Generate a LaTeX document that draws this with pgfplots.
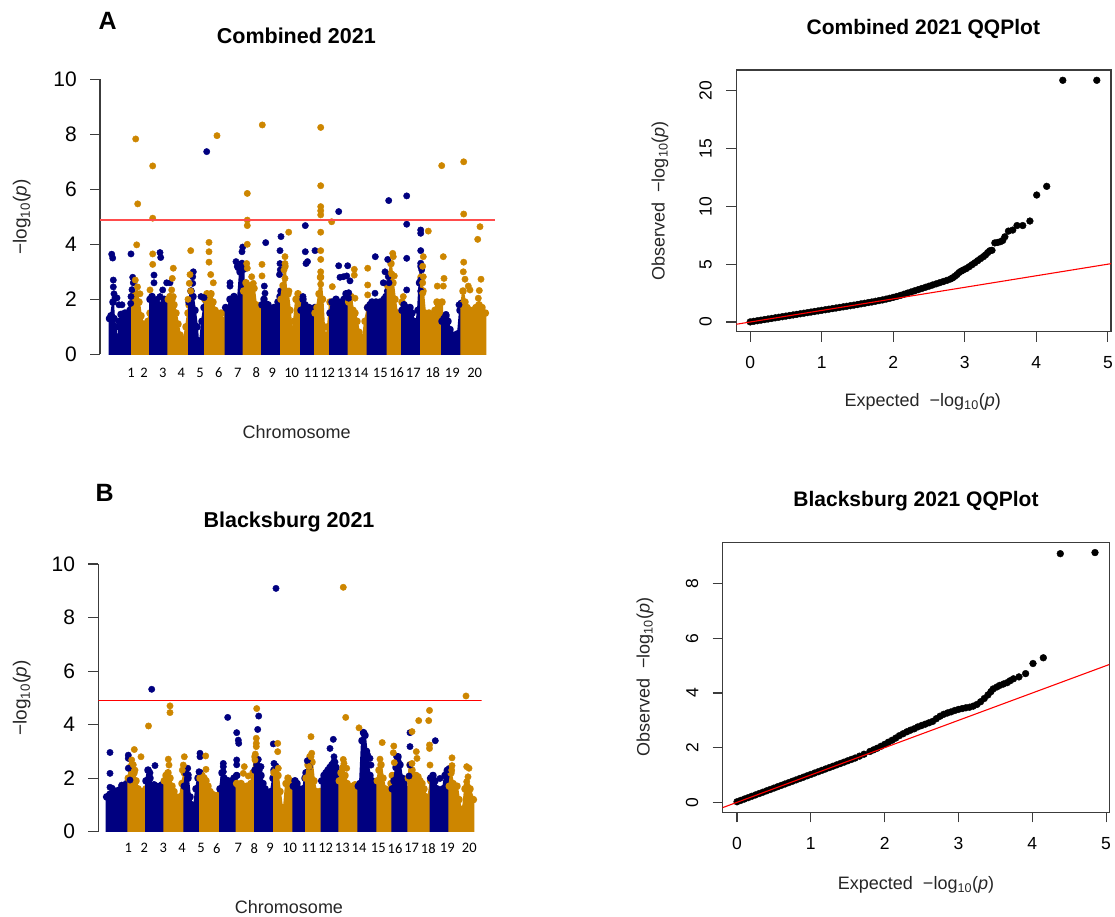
\documentclass[border=0pt]{standalone}
\usepackage{fontspec}
\setmainfont{Liberation Sans}
\newfontfamily\calib{Carlito}
\usepackage{pgfplots}
\pgfplotsset{compat=1.18}

\definecolor{chrnavy}{RGB}{0,0,128}
\definecolor{chrgold}{RGB}{205,134,0}
\definecolor{axgray}{RGB}{60,60,60}

\pgfplotsset{
  band/.style={fill=#1, draw=#1, line width=2pt, line join=round,
    mark=*, mark size=2.8pt, mark options={draw=none, fill=#1}},
  hits/.style={only marks, mark=*, mark size=3.2pt, color=#1, mark options={draw=none, fill=#1}},
  manhattan/.style={
    scale only axis, clip marker paths=true,
    axis y line=left, axis x line=bottom,
    x axis line style={draw=none},
    y axis line style={-, draw=axgray, line width=1.1pt},
    ymin=0, ymax=10, ytick={0,2,...,10},
    tick align=outside, major tick length=10pt,
    ytick style={draw=axgray, line width=1.1pt}, xtick style={draw=none},
    /pgf/number format/assume math mode=true,
    yticklabel style={font=\fontsize{21}{21}\selectfont, inner xsep=13pt},
    xticklabel style={font=\calib\fontsize{14.5}{14.5}\selectfont},
    xticklabels={1,2,3,4,5,6,7,8,9,10,11,12,13,14,15,16,17,18,19,20},
  },
  qq/.style={
    scale only axis, clip marker paths=true,
    axis line style={draw=axgray, line width=1.1pt},
    xmin=-0.194, xmax=5.044, xtick={0,1,2,3,4,5},
    tick align=outside, major tick length=10pt,
    tick style={draw=axgray, line width=1.1pt},
    xtick pos=bottom, ytick pos=left,
    /pgf/number format/assume math mode=true,
    ticklabel style={font=\fontsize{17.5}{17.5}\selectfont},
    xticklabel style={inner ysep=14.5pt},
    yticklabel style={rotate=90, anchor=south, inner ysep=14.2pt},
  },
  qqpts/.style={only marks, mark=*, mark size=3.4pt, black, mark options={draw=none, fill=black}},
}

\begin{document}
\begin{tikzpicture}
\path[use as bounding box] (0,0) rectangle (1115pt,-917pt);

% ---------------- Panel A: Manhattan, Combined 2021 ----------------
% each band is the dense cloud of SNPs of one chromosome (base below the axis is clipped)
\begin{axis}[manhattan, at={(100pt,-354.3pt)}, anchor=south west,
  width=395pt, height=275pt, xmin=100, xmax=495,
  xtick={131,144,162.7,181.3,200,218.7,237.7,256.3,272.3,291.7,311.3,327.7,344.3,361,380.3,396.7,413.3,432.7,452.3,474.7}]
\addplot[band=chrnavy] coordinates {(109.5,-1)(109.5,1.3)(111,1.4)(113,1.9)(114,1.3)(115.5,1.0)(116.5,0.5)(118,0.55)(119.5,1.2)(121,1.45)(125,1.5)(128,1.45)(130,1.6)(132,1.7)(132,-1)};
\addplot[band=chrgold] coordinates {(132,-1)(132,2.1)(134,2.2)(137,2.2)(139,1.9)(141,1.4)(143,1.1)(146,1.1)(148,1.2)(150,1.5)(150,-1)};
\addplot[band=chrnavy] coordinates {(150,-1)(150,2.0)(152,2.1)(154,1.5)(156,1.9)(158,1.8)(160,1.5)(162,1.8)(164,2.0)(166,1.9)(168.3,1.7)(168.3,-1)};
\addplot[band=chrgold] coordinates {(168.3,-1)(168.3,2.0)(170,2.1)(172,2.0)(174,1.8)(176,1.5)(178,1.1)(180,0.7)(182,0.5)(184,0.55)(186,1.0)(188,1.5)(189,1.8)(189,-1)};
\addplot[band=chrnavy] coordinates {(189,-1)(189,1.9)(191,2.3)(193,2.1)(195,1.6)(197,1.0)(198,0.5)(200,0.4)(202,1.2)(204,1.7)(205,2.0)(205,-1)};
\addplot[band=chrgold] coordinates {(205,-1)(205,2.0)(207,2.2)(209,2.1)(211,2.2)(213,1.9)(215,1.6)(217,1.5)(219,1.3)(221,1.5)(223,1.2)(225.7,1.5)(225.7,-1)};
\addplot[band=chrnavy] coordinates {(225.7,-1)(225.7,1.7)(228,1.6)(230,2.0)(232,1.9)(234,2.1)(236,1.8)(238,2.0)(240,3.0)(242,3.3)(243.7,3.1)(243.7,-1)};
\addplot[band=chrgold] coordinates {(243.7,-1)(243.7,2.3)(246,2.6)(248,2.5)(250,2.3)(252,2.5)(254,2.4)(256,1.8)(258,1.5)(260,1.7)(262,1.6)(262,-1)};
\addplot[band=chrnavy] coordinates {(262,-1)(262,1.8)(264,2.0)(266,1.7)(268,1.8)(270,1.6)(272,1.5)(274,1.7)(276,1.5)(278,1.9)(280,2.1)(281,2.3)(281,-1)};
\addplot[band=chrgold] coordinates {(281,-1)(281,2.0)(283,2.5)(285,3.2)(286,2.3)(288,2.2)(290,1.6)(292,0.6)(294,1.2)(296,2.0)(298,2.2)(300,1.9)(301,1.7)(301,-1)};
\addplot[band=chrnavy] coordinates {(301,-1)(301,1.6)(303,2.0)(305,1.8)(307,1.5)(309,1.7)(311,1.4)(313,1.5)(315,1.7)(315,-1)};
\addplot[band=chrgold] coordinates {(315,-1)(315,1.5)(317,1.7)(319,2.2)(320.5,2.8)(322.5,2.0)(324,1.0)(326,0.5)(328,1.0)(330,1.9)(330,-1)};
\addplot[band=chrnavy] coordinates {(330,-1)(330,1.5)(332,1.9)(334,1.8)(336,2.0)(338,1.9)(340,1.8)(342,1.9)(344,2.0)(346,2.2)(348.7,1.9)(348.7,-1)};
\addplot[band=chrgold] coordinates {(348.7,-1)(348.7,1.9)(351,2.1)(353,1.6)(355,1.5)(357,1.2)(359,0.8)(361,0.5)(363,0.6)(365,1.2)(367.7,1.7)(367.7,-1)};
\addplot[band=chrnavy] coordinates {(367.7,-1)(367.7,1.7)(370,1.8)(372,1.9)(374,1.8)(376,1.9)(378,1.8)(380,1.9)(382,1.8)(384,2.0)(386,2.1)(387.7,2.3)(387.7,-1)};
\addplot[band=chrgold] coordinates {(387.7,-1)(387.7,2.5)(389,2.9)(391,3.3)(393,2.6)(395,2.0)(397,1.5)(399,1.3)(401,1.5)(402,1.9)(402,-1)};
\addplot[band=chrnavy] coordinates {(402,-1)(402,1.6)(404,1.8)(406,1.7)(408,1.6)(410,1.7)(412,1.5)(414,1.2)(416,1.0)(418,1.6)(419.5,2.6)(421,3.2)(421,-1)};
\addplot[band=chrgold] coordinates {(421,-1)(421,2.8)(423,2.3)(425,1.5)(427,1.4)(429,1.5)(431,1.4)(433,1.2)(435,1.6)(437,1.9)(439,1.8)(442,1.9)(442,-1)};
\addplot[band=chrnavy] coordinates {(442,-1)(442,1.2)(444,1.3)(446,1.4)(448,1.2)(450,0.9)(452,0.7)(455,0.7)(458,0.75)(460,1.6)(461.3,1.85)(461.3,-1)};
\addplot[band=chrgold] coordinates {(461.3,-1)(461.3,1.8)(463,2.3)(465,1.9)(467,1.7)(470,1.6)(473,1.6)(476,1.7)(479,1.8)(482,1.7)(485.3,1.5)(485.3,-1)};
% individual markers above the dense bands
\addplot[hits=chrnavy] coordinates {
 (111.7,3.64)(112.7,3.5)(113.3,2.7)(113.3,2.45)(114,2.2)(115,2.05)(117,2.05)(119,1.8)(122,1.8)(131,3.65)(132.7,2.8)(133.3,2.6)(132,2.35)(131,2.1)(130.7,1.85)
 (160,3.7)(160.7,3.52)(154,2.88)(154,2.6)(162.7,2.34)(160,2.1)(166.7,2.6)(170,2.6)(157,2.0)
 (193.3,3.0)(192.7,2.82)(192.7,2.58)(191,2.3)(204,2.06)(206.7,7.37)(201,2.1)
 (230,2.6)(230,2.48)(236,3.37)(237.3,3.2)(242.7,3.9)(242,3.73)(238,3.15)
 (265.7,4.06)(264.3,2.48)(265,2.22)(281,4.28)(280,3.77)(280,3.3)(280.3,3.07)(279.5,2.9)
 (305.3,4.68)(305.3,3.73)(306,3.3)(307.5,3.37)(315,3.77)(303,2.1)
 (338.7,5.19)(338.7,3.22)(347.7,3.22)(343.3,2.82)(346.7,2.85)(350,2.67)(348.7,2.24)(348.7,2.04)(340,2.8)
 (375.3,3.55)(375,2.22)(383.3,2.6)(385,3.0)(388.7,5.59)(387.7,3.45)(388.3,2.82)(389,2.6)
 (406.7,5.76)(406.7,4.73)(406.7,3.49)(406.7,2.34)(420.7,4.52)(420.7,4.4)(420.7,3.77)(420.7,3.31)(421.7,3.07)(420.7,2.7)(420.7,2.3)
 (446,1.45)(459,1.8)};
\addplot[hits=chrgold] coordinates {
 (135.7,7.83)(137.7,5.47)(136.7,3.98)(135.3,2.7)(137.5,2.45)(140,2.2)
 (152.7,6.85)(152.7,4.95)(152.7,3.65)(152.7,3.27)(150,2.34)
 (173.3,3.13)(172.3,2.76)(171.7,2.34)(173.3,2.1)(190.7,3.77)(190,2.9)(189.3,2.58)(190.7,2.3)(188,2.0)
 (209,4.07)(209,3.73)(209,3.35)(210.7,2.9)(213.3,2.6)(217,7.95)
 (247.3,5.85)(247.3,4.88)(247.3,4.68)(247.3,4.0)(246.7,3.3)(247.3,3.13)(251.7,2.82)(253.3,2.58)(262.3,8.34)(262,3.27)(262,2.85)(254,2.4)
 (288.7,4.44)(285,3.55)(285,3.3)(284,3.07)(285,2.76)(289,2.3)
 (320.7,8.25)(320.7,6.13)(320.7,5.37)(320.7,5.22)(320.7,5.07)(320.7,4.44)(320.7,3.77)(320.7,3.45)(320.7,3.0)(320.7,2.82)(320.7,2.55)(331.7,4.82)(332.3,2.46)
 (354.3,3.09)(354.3,2.88)(355,2.04)(367.7,3.13)(367.7,2.52)(367.7,2.16)
 (392.7,3.67)(393.3,3.55)(391.7,2.92)(394.3,2.85)(403.3,2.1)
 (423.3,3.55)(422.7,3.2)(423.3,2.82)(422.7,2.6)(422.7,2.22)(428.3,4.48)(441.7,6.86)(443.3,3.55)(444,2.76)(443.3,2.48)(437.3,2.48)
 (463.7,7.0)(463.7,5.1)(463.7,3.35)(463.3,3.0)(465,2.73)(468.3,2.48)(470,2.34)(480,4.64)(477.7,4.18)(481,2.73)(479.3,2.32)(478.3,2.04)};
% genome-wide significance threshold
\addplot[red!70!white, line width=1.4pt] coordinates {(100,4.88)(495,4.88)};
\end{axis}

% ---------------- Panel A: QQ plot ----------------
\begin{axis}[qq, at={(736.3pt,-331.7pt)}, anchor=south west,
  width=374.7pt, height=261.7pt, ymin=-0.838, ymax=21.79, ytick={0,5,10,15,20}]
\addplot[qqpts] coordinates {
 (0,0.01)(0.05,0.06)(0.1,0.11)(0.15,0.16)(0.2,0.21)(0.25,0.26)(0.3,0.31)(0.35,0.36)(0.4,0.41)(0.45,0.46)
 (0.5,0.51)(0.55,0.56)(0.6,0.61)(0.65,0.66)(0.7,0.71)(0.75,0.76)(0.8,0.81)(0.85,0.86)(0.9,0.91)(0.95,0.96)
 (1.0,1.01)(1.05,1.06)(1.1,1.11)(1.15,1.16)(1.2,1.21)(1.25,1.26)(1.3,1.31)(1.35,1.36)(1.4,1.41)(1.45,1.46)
 (1.5,1.51)(1.55,1.57)(1.6,1.62)(1.65,1.68)(1.7,1.73)(1.75,1.79)(1.8,1.85)(1.85,1.91)(1.9,1.98)(1.95,2.05)
 (2.0,2.13)(2.05,2.21)(2.1,2.3)(2.15,2.4)(2.2,2.5)(2.25,2.6)(2.3,2.7)(2.35,2.8)(2.4,2.9)(2.45,3.0)
 (2.5,3.1)(2.55,3.2)(2.6,3.3)(2.65,3.4)(2.7,3.5)(2.75,3.6)(2.8,3.72)(2.83,3.82)(2.86,3.95)(2.89,4.1)
 (2.92,4.28)(2.95,4.4)(2.98,4.5)(3.02,4.62)(3.06,4.78)(3.1,4.95)(3.14,5.12)(3.18,5.3)(3.22,5.48)(3.26,5.65)
 (3.29,5.8)(3.32,6.0)(3.35,6.16)(3.38,6.2)(3.42,6.84)(3.46,6.88)(3.5,6.95)(3.53,7.05)(3.56,7.37)(3.61,7.86)
 (3.67,7.95)(3.73,8.34)(3.81,8.34)(3.91,8.73)(4.005,10.98)(4.145,11.73)(4.37,20.9)(4.845,20.9)};
\addplot[red, line width=1.1pt] coordinates {(-1,-1)(6,6)};
\end{axis}

% ---------------- Panel B: Manhattan, Blacksburg 2021 ----------------
\begin{axis}[manhattan, at={(98.3pt,-831.7pt)}, anchor=south west,
  width=383.4pt, height=267.7pt, xmin=98.3, xmax=481.7,
  xticklabel style={inner ysep=1.5pt},
  xtick={128.3,144.3,163.3,182,201,216.7,238.3,254.3,270,289.7,309,325.7,342.3,359,378.3,395,411.7,428.3,447.3,469.3}]
\addplot[band=chrnavy] coordinates {(106.7,-1)(106.7,1.3)(110,1.4)(113,1.4)(116,1.5)(119,1.55)(122,1.7)(125,1.75)(128.3,1.9)(128.3,-1)};
\addplot[band=chrgold] coordinates {(128.3,-1)(128.3,2.0)(130,2.4)(132,2.5)(134,2.2)(136,1.9)(138,1.6)(140,1.4)(142,1.5)(144,1.2)(146,1.6)(146,-1)};
\addplot[band=chrnavy] coordinates {(146,-1)(146,1.9)(148,2.3)(150,2.0)(152,1.7)(154,1.75)(156,1.7)(158,1.55)(160,1.7)(162,1.75)(164.3,1.8)(164.3,-1)};
\addplot[band=chrgold] coordinates {(164.3,-1)(164.3,1.9)(166,2.1)(168,2.2)(170,2.0)(172,1.7)(174,1.5)(176,1.3)(178,1.2)(180,1.3)(182,1.8)(184.3,2.2)(184.3,-1)};
\addplot[band=chrnavy] coordinates {(184.3,-1)(184.3,1.7)(186,2.2)(188,2.0)(190,1.3)(192,1.0)(194,0.9)(196,1.6)(198,2.0)(200,2.2)(200,-1)};
\addplot[band=chrgold] coordinates {(200,-1)(200,2.0)(202,2.1)(204,2.0)(206,1.9)(208,1.7)(210,1.5)(212,1.4)(215,1.35)(218,1.35)(220,1.4)(220,-1)};
\addplot[band=chrnavy] coordinates {(220,-1)(220,1.6)(222,2.2)(224,2.0)(226,1.9)(228,1.9)(230,1.8)(232,1.9)(234,2.0)(236.7,2.1)(236.7,-1)};
\addplot[band=chrgold] coordinates {(236.7,-1)(236.7,1.8)(239,1.7)(241,1.8)(243,1.7)(245,1.6)(247,1.7)(249,1.6)(251,1.8)(253,2.2)(255,2.8)(255,-1)};
\addplot[band=chrnavy] coordinates {(255,-1)(255,2.3)(257,2.5)(259,2.3)(261,2.1)(263,1.8)(265,1.6)(267,1.4)(269,1.2)(271,1.5)(273,2.0)(274,2.3)(274,-1)};
\addplot[band=chrgold] coordinates {(274,-1)(274,2.2)(276,2.3)(278,2.1)(280,1.5)(282,0.9)(284,0.9)(286,1.8)(288,2.0)(290,1.9)(293.3,1.8)(293.3,-1)};
\addplot[band=chrnavy] coordinates {(293.3,-1)(293.3,1.7)(295,1.9)(297,1.8)(299,1.6)(301,1.5)(303,1.6)(305,2.0)(306,2.2)(306,-1)};
\addplot[band=chrgold] coordinates {(306,-1)(306,2.0)(308,2.5)(310,2.8)(312,2.6)(314,1.9)(316,1.5)(318,1.4)(320,1.5)(321.7,1.3)(321.7,-1)};
\addplot[band=chrnavy] coordinates {(321.7,-1)(321.7,1.9)(324,2.1)(326,2.2)(328,2.3)(330,2.4)(332,2.5)(334,2.6)(336,2.4)(338,2.2)(339.3,1.9)(339.3,-1)};
\addplot[band=chrgold] coordinates {(339.3,-1)(339.3,1.9)(341,2.2)(343,2.4)(345,2.1)(347,1.8)(349,1.7)(351,1.65)(353,1.7)(355,1.75)(358.3,1.7)(358.3,-1)};
\addplot[band=chrnavy] coordinates {(358.3,-1)(358.3,1.7)(360,1.8)(362,3.4)(363.5,3.7)(365,3.6)(366.5,3.0)(368,2.5)(370,2.1)(372,1.9)(374,1.8)(377.3,1.7)(377.3,-1)};
\addplot[band=chrgold] coordinates {(377.3,-1)(377.3,1.9)(379,2.3)(381,2.5)(383,2.0)(385,1.6)(387,1.5)(389,1.55)(391,1.8)(392.3,2.1)(392.3,-1)};
\addplot[band=chrnavy] coordinates {(392.3,-1)(392.3,1.6)(394,1.9)(396,2.4)(398,2.8)(400,2.5)(402,2.0)(404,1.8)(406,1.6)(408.3,1.3)(408.3,-1)};
\addplot[band=chrgold] coordinates {(408.3,-1)(408.3,2.0)(410,2.5)(412,2.3)(414,2.0)(416,2.1)(418,2.05)(420,1.9)(422,1.8)(424,1.6)(426,1.3)(428,1.2)(430.7,1.9)(430.7,-1)};
\addplot[band=chrnavy] coordinates {(430.7,-1)(430.7,2.0)(433,2.1)(435,1.9)(437,1.6)(439,1.4)(441,1.35)(443,1.6)(445,2.1)(447,2.2)(449.3,2.35)(449.3,-1)};
\addplot[band=chrgold] coordinates {(449.3,-1)(449.3,1.7)(451,2.2)(453,1.8)(455,1.7)(457,1.7)(459,1.2)(461,0.8)(463,0.85)(465,1.6)(467,1.7)(470,1.6)(473.3,1.2)(473.3,-1)};
\addplot[hits=chrnavy] coordinates {
 (110,2.96)(110,2.18)(110,1.66)(112.3,1.62)(121.7,1.74)(128.3,2.86)(128.3,2.74)(128.3,2.37)(130,1.93)
 (151.7,5.32)(148.3,2.3)(150,2.2)(155,2.47)
 (187.7,2.37)(188.3,2.12)(200,2.93)(200,2.8)(199,2.24)
 (223.3,2.55)(223.3,2.43)(223.3,2.24)(227.7,4.27)(236.7,3.7)(238.3,3.42)(238.7,3.3)(236.7,2.68)(236.7,2.5)
 (258.7,4.32)(257.7,3.82)(258.3,2.7)(261,2.43)(276,9.09)(273.3,3.28)(274,2.55)(276,2.45)
 (307.3,2.65)(309.3,2.43)
 (333.3,3.45)(330,3.11)(334,2.8)(335,2.6)
 (364,3.67)(370,2.74)(371,2.49)(367.7,2.86)
 (396.7,2.8)(398.3,2.62)(410,3.7)(410,3.18)(410,2.49)(409,2.08)
 (435.3,3.4)(440,1.99)(447,2.3)};
\addplot[hits=chrgold] coordinates {
 (134.3,3.07)(141,2.8)(131.7,2.68)(133.3,2.5)(135,2.3)(148.5,3.95)
 (170,4.7)(170,4.45)(168.3,2.71)(169,2.49)(184.3,2.8)(183.3,2.49)(182.3,2.3)
 (205.7,2.83)(206,2.33)
 (244.3,2.43)(243.3,2.18)(248.3,2.08)(256.7,4.6)(256.3,3.49)(256.3,3.3)(256.3,3.18)(255.3,2.9)(255,2.68)
 (277.7,3.3)(277.7,2.99)(278.3,2.37)
 (311,3.55)(311.7,2.93)(311,2.8)(309,2.43)
 (343.3,9.13)(345.7,4.27)(359,3.88)(343.3,2.7)(344,2.55)(346.7,2.37)
 (382.2,3.33)(380,2.71)(393.8,3.2)(393.3,2.95)(394.3,2.58)
 (412,3.74)(416.3,2.99)(417,2.74)(412,2.55)(418.7,4.15)(429.5,4.53)(428.7,4.15)(429.5,3.24)(429.5,3.11)(430,2.49)
 (452,2.76)(452,2.47)(451.7,2.3)(466,5.07)(466.7,2.43)(469,2.37)(468,2.05)(466.7,1.87)};
\addplot[red, line width=1.2pt] coordinates {(98.3,4.9)(481.7,4.9)};
\end{axis}

% ---------------- Panel B: QQ plot ----------------
\begin{axis}[qq, at={(722.7pt,-812.3pt)}, anchor=south west,
  width=386.6pt, height=270pt, ymin=-0.366, ymax=9.516, ytick={0,2,4,6,8}]
\addplot[qqpts] coordinates {
 (0,0.02)(0.05,0.07)(0.1,0.12)(0.15,0.17)(0.2,0.22)(0.25,0.27)(0.3,0.32)(0.35,0.37)(0.4,0.42)(0.45,0.47)
 (0.5,0.52)(0.55,0.57)(0.6,0.62)(0.65,0.67)(0.7,0.72)(0.75,0.77)(0.8,0.82)(0.85,0.87)(0.9,0.92)(0.95,0.97)
 (1.0,1.02)(1.05,1.07)(1.1,1.12)(1.15,1.17)(1.2,1.22)(1.25,1.27)(1.3,1.32)(1.35,1.37)(1.4,1.42)(1.45,1.47)
 (1.5,1.52)(1.55,1.57)(1.6,1.62)(1.66,1.69)(1.72,1.76)(1.8,1.86)(1.85,1.92)(1.9,1.98)(1.95,2.05)(2.0,2.12)
 (2.05,2.2)(2.1,2.27)(2.15,2.35)(2.2,2.44)(2.25,2.51)(2.3,2.58)(2.35,2.64)(2.4,2.69)(2.45,2.76)(2.5,2.81)
 (2.55,2.86)(2.6,2.91)(2.65,2.96)(2.7,3.06)(2.75,3.15)(2.8,3.22)(2.85,3.27)(2.9,3.31)(2.95,3.36)(3.0,3.4)
 (3.05,3.43)(3.1,3.46)(3.15,3.48)(3.2,3.52)(3.25,3.58)(3.3,3.68)(3.35,3.8)(3.4,3.93)(3.44,4.05)(3.47,4.15)
 (3.52,4.22)(3.56,4.28)(3.61,4.33)(3.66,4.38)(3.7,4.45)(3.745,4.52)(3.82,4.59)(3.91,4.71)(4.01,5.08)(4.15,5.29)
 (4.38,9.10)(4.85,9.14)};
\addplot[red, line width=1.1pt] coordinates {(-1,-1)(6,6)};
\end{axis}

% ---------------- titles, panel letters and axis captions ----------------
\node[font=\fontsize{25}{25}\selectfont\bfseries] at (107.7pt,-21pt) {A};
\node[font=\fontsize{21.5}{21.5}\selectfont\bfseries] at (296.3pt,-35.7pt) {Combined 2021};
\node[font=\fontsize{18}{18}\selectfont, text=black!85] at (296.7pt,-432pt) {Chromosome};
\node[font=\fontsize{19}{19}\selectfont, text=black!85, rotate=90] at (21.7pt,-217pt) {−log\textsubscript{10}(\textit{p})};
\node[font=\fontsize{21}{21}\selectfont\bfseries] at (923.3pt,-29pt) {Combined 2021 QQPlot};
\node[font=\fontsize{18}{18}\selectfont, text=black!85] at (922.7pt,-401.7pt) {Expected\ \ −log\textsubscript{10}(\textit{p})};
\node[font=\fontsize{18}{18}\selectfont, text=black!85, rotate=90] at (660pt,-201pt) {Observed\ \ −log\textsubscript{10}(\textit{p})};

\node[font=\fontsize{25}{25}\selectfont\bfseries] at (104.7pt,-492.7pt) {B};
\node[font=\fontsize{21.5}{21.5}\selectfont\bfseries] at (289pt,-521.7pt) {Blacksburg 2021};
\node[font=\fontsize{18}{18}\selectfont, text=black!85] at (289pt,-906.7pt) {Chromosome};
\node[font=\fontsize{19}{19}\selectfont, text=black!85, rotate=90] at (21.7pt,-698pt) {−log\textsubscript{10}(\textit{p})};
\node[font=\fontsize{21}{21}\selectfont\bfseries] at (916pt,-500.7pt) {Blacksburg 2021 QQPlot};
\node[font=\fontsize{18}{18}\selectfont, text=black!85] at (916pt,-885pt) {Expected\ \ −log\textsubscript{10}(\textit{p})};
\node[font=\fontsize{18}{18}\selectfont, text=black!85, rotate=90] at (645pt,-677.3pt) {Observed\ \ −log\textsubscript{10}(\textit{p})};
\end{tikzpicture}
\end{document}
